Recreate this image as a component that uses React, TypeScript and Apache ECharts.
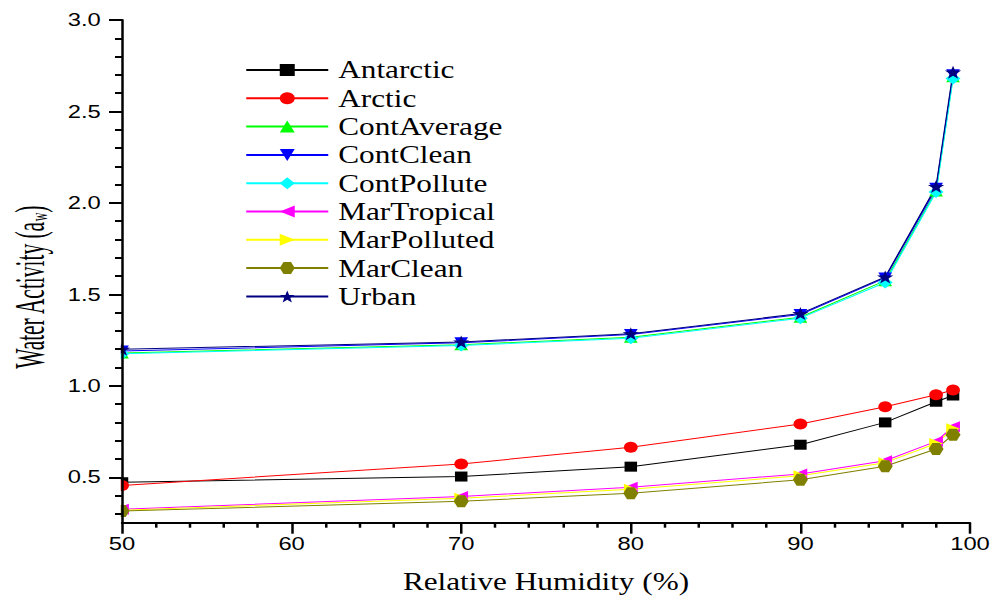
import { useEffect, useRef } from "react";
import * as echarts from "echarts";

// Relative humidity (%) sampled for every aerosol type
const humidity = [50, 70, 80, 90, 95, 98, 99];

// Water activity per aerosol type
const antarctic = [0.473, 0.504, 0.558, 0.678, 0.8, 0.913, 0.947];
const arctic = [0.455, 0.573, 0.664, 0.791, 0.885, 0.951, 0.977];
const contAverage = [1.18, 1.225, 1.265, 1.375, 1.575, 2.065, 2.69];
const contClean = [1.19, 1.235, 1.28, 1.39, 1.59, 2.08, 2.7];
const contPollute = [1.175, 1.22, 1.26, 1.37, 1.565, 2.06, 2.68];
const marTropical = [0.325, 0.395, 0.445, 0.518, 0.59, 0.696, 0.776];
const marPolluted = [0.32, 0.385, 0.435, 0.508, 0.58, 0.685, 0.765];
const marClean = [0.315, 0.369, 0.413, 0.486, 0.56, 0.655, 0.733];
const urban = [1.2, 1.24, 1.285, 1.395, 1.595, 2.09, 2.715];

// Axis ticks
const yMajorTicks = [0.5, 1.0, 1.5, 2.0, 2.5, 3.0];
const yMinorTicks = [
  0.3, 0.4, 0.6, 0.7, 0.8, 0.9, 1.1, 1.2, 1.3, 1.4, 1.6, 1.7, 1.8, 1.9, 2.1,
  2.2, 2.3, 2.4, 2.6, 2.7, 2.8, 2.9,
];

const SERIF = "'Liberation Serif', 'Times New Roman', serif";
const SANS = "'Liberation Sans', Arial, sans-serif";

const HEXAGON = "path://M0,50 L25,7 L75,7 L100,50 L75,93 L25,93 Z";
const STAR =
  "path://M50,2 L61.76,35.82 L97.55,36.55 L69.02,58.18 L79.39,92.45 L50,72 L20.61,92.45 L30.98,58.18 L2.45,36.55 L38.24,35.82 Z";
const TRI_DOWN = "path://M0,0 L100,0 L50,100 Z";
const TRI_LEFT = "path://M0,50 L100,0 L100,100 Z";
const TRI_RIGHT = "path://M0,0 L100,50 L0,100 Z";

const seriesList = [
  { name: "Antarctic", values: antarctic, color: "#000000", symbol: "rect", size: 10 },
  { name: "Arctic", values: arctic, color: "#ff0000", symbol: "circle", size: 11 },
  { name: "ContAverage", values: contAverage, color: "#00ff00", symbol: "triangle", size: 11 },
  { name: "ContClean", values: contClean, color: "#0000ff", symbol: TRI_DOWN, size: 11 },
  { name: "ContPollute", values: contPollute, color: "#00ffff", symbol: "diamond", size: 12 },
  { name: "MarTropical", values: marTropical, color: "#ff00ff", symbol: TRI_LEFT, size: 11 },
  { name: "MarPolluted", values: marPolluted, color: "#ffff00", symbol: TRI_RIGHT, size: 11 },
  { name: "MarClean", values: marClean, color: "#808000", symbol: HEXAGON, size: 12 },
  { name: "Urban", values: urban, color: "#000080", symbol: STAR, size: 13 },
];

// The figure is drawn narrower and widened horizontally as a whole
const PAGE_W = 995;
const PAGE_H = 599;
const STRETCH = 1.25;
const INNER_W = PAGE_W / STRETCH;
const GRID_LEFT = 97.6;
const GRID_TOP = 20;
const GRID_BOTTOM = 76;

export default function App() {
  const ref = useRef<HTMLDivElement>(null);

  useEffect(() => {
    if (!ref.current) return;
    const chart = echarts.init(ref.current, null, { renderer: "svg" });

    const axisColor = "#000";

    chart.setOption({
      animation: false,
      backgroundColor: "#ffffff",
      grid: { left: GRID_LEFT, right: 20, top: GRID_TOP, bottom: GRID_BOTTOM, containLabel: false },
      legend: {
        orient: "vertical",
        left: 196,
        top: 57.5,
        padding: 0,
        itemWidth: 65.6,
        itemHeight: 15,
        itemGap: 3.3,
        selectedMode: false,
        textStyle: {
          fontFamily: SERIF,
          fontSize: 25,
          lineHeight: 25,
          color: "#000",
          padding: [0, 0, 0, 3],
        },
        data: seriesList.map((s) => s.name),
      },
      xAxis: {
        type: "value",
        z: 10,
        min: 50,
        max: 100,
        interval: 10,
        name: "Relative Humidity (%)",
        nameLocation: "middle",
        nameGap: 46,
        nameTextStyle: { fontFamily: SERIF, fontSize: 25, color: "#000" },
        axisLine: { lineStyle: { color: axisColor, width: 2 } },
        axisTick: { length: 10.7, lineStyle: { color: axisColor, width: 2 } },
        minorTick: { show: true, splitNumber: 5, length: 4.7, lineStyle: { color: axisColor, width: 2 } },
        axisLabel: { fontFamily: SANS, fontSize: 19, color: "#000", margin: 11 },
        splitLine: { show: false },
        minorSplitLine: { show: false },
      },
      yAxis: [
        {
          type: "value",
          z: 10,
          min: 0.25,
          max: 3.0,
          position: "left",
          axisLine: { show: true, lineStyle: { color: axisColor, width: 2 } },
          axisTick: {
            show: true,
            customValues: yMajorTicks,
            length: 10.4,
            lineStyle: { color: axisColor, width: 2 },
          },
          axisLabel: {
            customValues: yMajorTicks,
            formatter: (v: number) => v.toFixed(1),
            fontFamily: SANS,
            fontSize: 19,
            color: "#000",
            margin: 17,
          },
          splitLine: { show: false },
        },
        {
          type: "value",
          z: 10,
          min: 0.25,
          max: 3.0,
          position: "left",
          axisLine: { show: false },
          axisTick: {
            show: true,
            customValues: yMinorTicks,
            length: 5.6,
            lineStyle: { color: axisColor, width: 2 },
          },
          axisLabel: { show: false },
          splitLine: { show: false },
        },
      ],
      graphic: [
        // Masks the part of the markers that falls left of the y axis
        {
          type: "rect",
          z: 5,
          silent: true,
          shape: { x: 0, y: 0, width: GRID_LEFT - 1, height: PAGE_H - GRID_BOTTOM },
          style: { fill: "#ffffff" },
        },
        {
          type: "text",
          z: 12,
          x: 23.2,
          y: 287.5,
          rotation: Math.PI / 2,
          scaleX: 0.63,
          style: {
            text: "{t|Water Activity (a}{s|w}{t|)}",
            align: "center",
            verticalAlign: "middle",
            rich: {
              t: { fontFamily: SERIF, fontSize: 34, lineHeight: 34, fill: "#000", color: "#000" },
              s: {
                fontFamily: SERIF,
                fontSize: 19,
                lineHeight: 6,
                verticalAlign: "bottom",
                fill: "#000",
                color: "#000",
              },
            },
          },
        },
      ],
      series: seriesList.map((s) => ({
        name: s.name,
        type: "line",
        yAxisIndex: 0,
        data: humidity.map((h, i) => [h, s.values[i]]),
        symbol: s.symbol,
        symbolSize: s.size,
        showSymbol: true,
        color: s.color,
        itemStyle: { color: s.color },
        lineStyle: { color: s.color, width: 1 },
      })),
    });

    return () => chart.dispose();
  }, []);

  return (
    <div
      style={{
        position: "fixed",
        left: 0,
        top: 0,
        width: PAGE_W,
        height: PAGE_H,
        overflow: "hidden",
        background: "#fff",
      }}
    >
      <div
        ref={ref}
        style={{
          width: INNER_W,
          height: PAGE_H,
          transform: `scaleX(${STRETCH})`,
          transformOrigin: "0 0",
        }}
      />
    </div>
  );
}
